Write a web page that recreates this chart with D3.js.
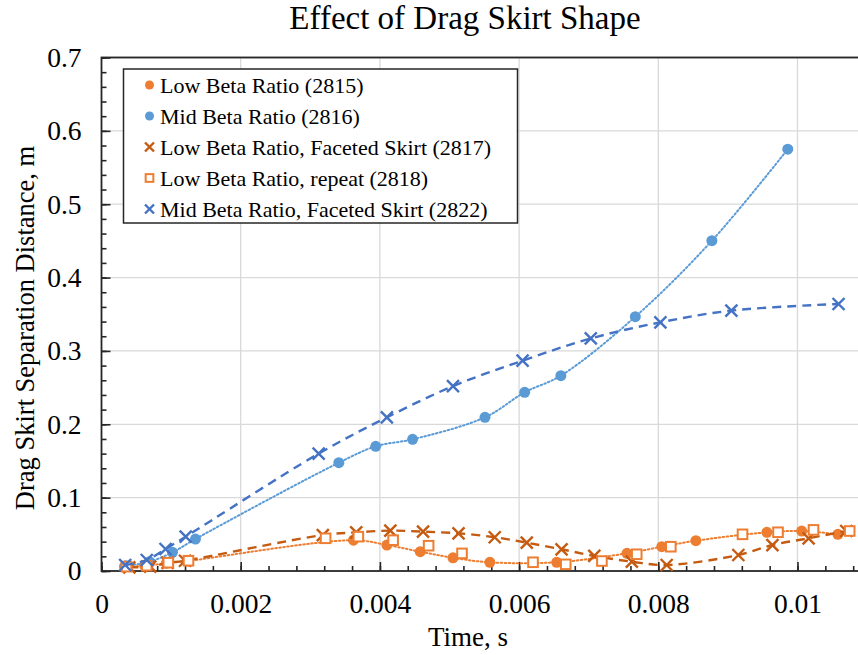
<!DOCTYPE html>
<html><head><meta charset="utf-8">
<script src="https://cdn.jsdelivr.net/npm/d3@7"></script>
<style>body{margin:0;background:#fff}svg{display:block}text{font-family:"Liberation Serif","Times New Roman",serif;fill:#000}</style>
</head><body><svg id="c" width="858" height="655"></svg>
<script>
const title = "Effect of Drag Skirt Shape";
const xTitle = "Time, s";
const yTitle = "Drag Skirt Separation Distance, m";
const xTicks = [0, 0.002, 0.004, 0.006, 0.008, 0.01];
const xTickLabels = ["0", "0.002", "0.004", "0.006", "0.008", "0.01"];
const yTicks = [0, 0.1, 0.2, 0.3, 0.4, 0.5, 0.6, 0.7];
const yTickLabels = ["0", "0.1", "0.2", "0.3", "0.4", "0.5", "0.6", "0.7"];

const names = ["Low Beta Ratio (2815)", "Mid Beta Ratio (2816)", "Low Beta Ratio, Faceted Skirt (2817)", "Low Beta Ratio, repeat (2818)", "Mid Beta Ratio, Faceted Skirt (2822)"];

const t2815 = [0.00033, 0.00062, 0.00093, 0.00123, 0.00362, 0.0041, 0.00458, 0.00505, 0.00558, 0.00654, 0.00755, 0.00805, 0.00854, 0.00956, 0.01006, 0.01058];
const v2815 = [0.006, 0.007, 0.0105, 0.0135, 0.042, 0.0354, 0.0263, 0.018, 0.0119, 0.0119, 0.0241, 0.0331, 0.0413, 0.0527, 0.0545, 0.050];

const t2816 = [0.00035, 0.00069, 0.00102, 0.00135, 0.00341, 0.00394, 0.00447, 0.00551, 0.00608, 0.0066, 0.00767, 0.00877, 0.00986];
const v2816 = [0.007, 0.0127, 0.0255, 0.0436, 0.1476, 0.170, 0.1795, 0.2095, 0.2436, 0.2663, 0.3467, 0.4503, 0.575];

const t2817 = [0.0004, 0.0007, 0.00095, 0.0012, 0.00318, 0.00366, 0.00415, 0.00462, 0.00513, 0.00565, 0.00611, 0.00661, 0.00708, 0.00762, 0.00812, 0.00915, 0.00964, 0.01016, 0.0107];
const v2817 = [0.005, 0.006, 0.011, 0.014, 0.049, 0.0527, 0.055, 0.0536, 0.0514, 0.046, 0.0386, 0.0296, 0.0205, 0.0127, 0.0082, 0.0218, 0.0354, 0.0446, 0.0545];

const t2818 = [0.00036, 0.00065, 0.00096, 0.00125, 0.00322, 0.00369, 0.00419, 0.0047, 0.00518, 0.0062, 0.00667, 0.00719, 0.00769, 0.00818, 0.00921, 0.00972, 0.01023, 0.01075];
const v2818 = [0.0059, 0.0072, 0.0113, 0.014, 0.0446, 0.0468, 0.042, 0.0345, 0.024, 0.0119, 0.0091, 0.0136, 0.0228, 0.0331, 0.050, 0.0528, 0.056, 0.0545];

const t2822 = [0.00034, 0.00065, 0.00092, 0.00121, 0.00312, 0.0041, 0.00505, 0.00605, 0.00703, 0.00803, 0.00905, 0.01059];
const v2822 = [0.0082, 0.015, 0.030, 0.0468, 0.160, 0.2095, 0.252, 0.2867, 0.317, 0.339, 0.355, 0.364];

const series = [
  {name: names[0], t: t2815, v: v2815, color: "#ED7D31", marker: "circle", line: "dot"},
  {name: names[1], t: t2816, v: v2816, color: "#5B9BD5", marker: "circle", line: "dot"},
  {name: names[2], t: t2817, v: v2817, color: "#C55A11", marker: "x", line: "dash"},
  {name: names[3], t: t2818, v: v2818, color: "#ED7D31", marker: "square", line: null},
  {name: names[4], t: t2822, v: v2822, color: "#4472C4", marker: "x", line: "dash"}
];

const svg = d3.select("#c");
svg.append("rect").attr("width", 858).attr("height", 655).attr("fill", "#fff");
const L = 101.5, T = 57.5, B = 571;
const x = d3.scaleLinear().domain([0, 0.011]).range([L, L + 0.011 * 69600]);
const y = d3.scaleLinear().domain([0, 0.7]).range([B, T]);

// gridlines
const g = svg.append("g");
g.selectAll(".gx").data(xTicks.slice(1)).join("line")
  .attr("x1", d => x(d)).attr("x2", d => x(d)).attr("y1", T).attr("y2", B)
  .attr("stroke", "#d9d9d9").attr("stroke-width", 1.3);
g.selectAll(".gy").data(yTicks.slice(1)).join("line")
  .attr("x1", L).attr("x2", 870).attr("y1", d => y(d)).attr("y2", d => y(d))
  .attr("stroke", "#d9d9d9").attr("stroke-width", 1.3);

// axes with inward ticks
const xMinor = d3.range(0, 0.01101, 0.0004);
const yMinor = d3.range(0, 0.701, 0.02);
const xAxisMinor = d3.axisBottom(x).tickValues(xMinor).tickSize(-5).tickFormat("");
const xAxisMajor = d3.axisBottom(x).tickValues(xTicks).tickSize(-9).tickFormat((d, i) => xTickLabels[i]).tickPadding(22);
const yAxisMinor = d3.axisLeft(y).tickValues(yMinor).tickSize(-5).tickFormat("");
const yAxisMajor = d3.axisLeft(y).tickValues(yTicks).tickSize(-9).tickFormat((d, i) => yTickLabels[i]).tickPadding(20);

function style(sel) {
  sel.select(".domain").remove();
  sel.selectAll("line").attr("stroke", "#262626").attr("stroke-width", 1.6);
  sel.selectAll("text").style("font-size", "27.5px").attr("fill", "#000");
}
svg.append("g").attr("transform", `translate(0,${B})`).call(xAxisMinor).call(style);
svg.append("g").attr("transform", `translate(0,${B})`).call(xAxisMajor).call(style);
svg.append("g").attr("transform", `translate(${L},0)`).call(yAxisMinor).call(style);
svg.append("g").attr("transform", `translate(${L},0)`).call(yAxisMajor).call(style);

// frame
svg.append("rect").attr("x", L).attr("y", T).attr("width", 870 - L).attr("height", B - T)
  .attr("fill", "none").attr("stroke", "#262626").attr("stroke-width", 1.8);

// series
const plot = svg.append("g");
series.forEach(s => {
  const pts = s.t.map((t, i) => [t, s.v[i]]);
  if (s.line) {
    const ln = d3.line().x(d => x(d[0])).y(d => y(d[1])).curve(d3.curveCatmullRom.alpha(0.5));
    plot.append("path").attr("d", ln(pts)).attr("fill", "none").attr("stroke", s.color)
      .attr("stroke-width", s.line === "dot" ? 2 : 2.4)
      .attr("stroke-dasharray", s.line === "dot" ? "1.6 2.4" : "9 6")
      .attr("stroke-linecap", s.line === "dot" ? "round" : "butt");
  }
  drawMarkers(plot, pts.map(d => [x(d[0]), y(d[1])]), s);
});

function drawMarkers(parent, pxs, s) {
  const gg = parent.append("g");
  pxs.forEach(([px, py]) => drawMarker(gg, px, py, s, 1));
}
function drawMarker(gg, px, py, s, k) {
  if (s.marker === "circle") {
    gg.append("circle").attr("cx", px).attr("cy", py).attr("r", 5.5 * k).attr("fill", s.color);
  } else if (s.marker === "square") {
    const h = 4.8 * k;
    gg.append("rect").attr("x", px - h).attr("y", py - h).attr("width", 2 * h).attr("height", 2 * h)
      .attr("fill", "#fff").attr("stroke", s.color).attr("stroke-width", 2);
  } else {
    const h = 6 * k;
    gg.append("path").attr("d", `M${px - h},${py - h}L${px + h},${py + h}M${px - h},${py + h}L${px + h},${py - h}`)
      .attr("stroke", s.color).attr("stroke-width", 2.4).attr("fill", "none");
  }
}

// legend
const lg = svg.append("g");
lg.append("rect").attr("x", 123.5).attr("y", 69).attr("width", 394).attr("height", 154)
  .attr("fill", "#fff").attr("stroke", "#262626").attr("stroke-width", 1.5);
const rowY = [85, 116, 147, 178, 209];
series.forEach((s, i) => {
  drawMarker(lg, 149.5, rowY[i], s, s.marker === "circle" ? 0.82 : s.marker === "square" ? 0.8 : 0.75);
  lg.append("text").attr("x", 160).attr("y", rowY[i]).attr("dy", "0.35em")
    .style("font-size", "22px").text(s.name);
});

// titles
svg.append("text").attr("x", 465).attr("y", 29).attr("text-anchor", "middle").style("font-size", "33px").text(title);
svg.append("text").attr("x", 468).attr("y", 646).attr("text-anchor", "middle").style("font-size", "27px").text(xTitle);
svg.append("text").attr("transform", "translate(34,328) rotate(-90)").attr("text-anchor", "middle").style("font-size", "26.5px").text(yTitle);
</script></body></html>
